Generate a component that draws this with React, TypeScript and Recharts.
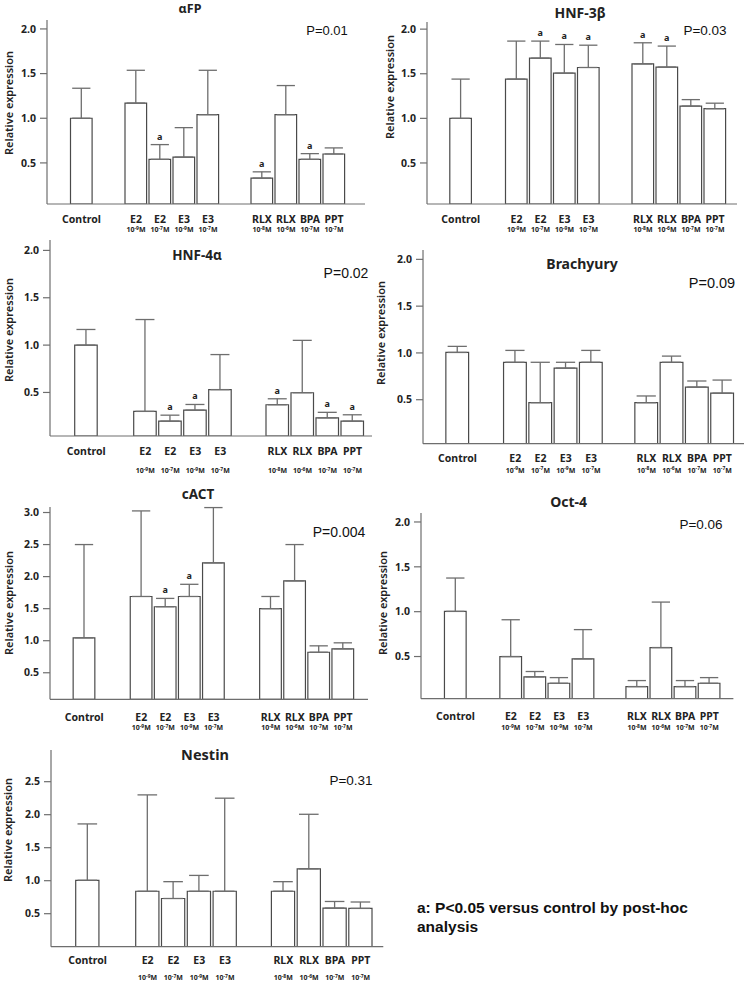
import React from 'react';
import { BarChart, Bar, XAxis, YAxis, ErrorBar, LabelList } from 'recharts';

const categories = ['Control', 'E2', 'E2', 'E3', 'E3', 'RLX', 'RLX', 'BPA', 'PPT'];
const concentrations = ['', '-9', '-7', '-9', '-7', '-8', '-6', '-7', '-7'];

// mean relative expression, upper error (SD) and post-hoc marks
const afpMean = [1.0, 1.17, 0.54, 0.565, 1.04, 0.33, 1.04, 0.54, 0.6];
const afpSd = [0.336, 0.367, 0.165, 0.33, 0.497, 0.07, 0.326, 0.064, 0.068];
const afpSig = [0, 0, 1, 0, 0, 1, 0, 1, 0];

const hnf3bMean = [1.0, 1.44, 1.675, 1.507, 1.57, 1.61, 1.575, 1.138, 1.108];
const hnf3bSd = [0.44, 0.426, 0.191, 0.321, 0.25, 0.237, 0.235, 0.072, 0.062];
const hnf3bSig = [0, 0, 1, 1, 1, 1, 1, 0, 0];

const hnf4aMean = [1.0, 0.3, 0.197, 0.313, 0.53, 0.37, 0.497, 0.232, 0.197];
const hnf4aSd = [0.165, 0.97, 0.063, 0.06, 0.37, 0.063, 0.553, 0.058, 0.067];
const hnf4aSig = [0, 0, 1, 1, 0, 1, 0, 1, 1];

const brachyuryMean = [1.005, 0.9, 0.468, 0.838, 0.9, 0.468, 0.9, 0.635, 0.57];
const brachyurySd = [0.065, 0.127, 0.432, 0.062, 0.127, 0.072, 0.066, 0.065, 0.14];
const brachyurySig = [0, 0, 0, 0, 0, 0, 0, 0, 0];

const cactMean = [1.045, 1.69, 1.53, 1.69, 2.214, 1.5, 1.933, 0.82, 0.873];
const cactSd = [1.455, 1.335, 0.13, 0.19, 0.863, 0.19, 0.567, 0.1, 0.094];
const cactSig = [0, 0, 1, 1, 0, 0, 0, 0, 0];

const oct4Mean = [1.003, 0.5, 0.273, 0.202, 0.474, 0.165, 0.6, 0.165, 0.202];
const oct4Sd = [0.372, 0.41, 0.06, 0.063, 0.326, 0.067, 0.507, 0.067, 0.063];
const oct4Sig = [0, 0, 0, 0, 0, 0, 0, 0, 0];

const nestinMean = [1.006, 0.84, 0.73, 0.84, 0.84, 0.84, 1.18, 0.585, 0.58];
const nestinSd = [0.854, 1.46, 0.255, 0.24, 1.41, 0.145, 0.826, 0.1, 0.097];
const nestinSig = [0, 0, 0, 0, 0, 0, 0, 0, 0];

const ticks2 = [0.5, 1.0, 1.5, 2.0];
const ticks3 = [0.5, 1.0, 1.5, 2.0, 2.5, 3.0];
const ticks25 = [0.5, 1.0, 1.5, 2.0, 2.5];

const SANS = '"Noto Sans", "Open Sans", sans-serif';
const ARIAL = '"Liberation Sans", Arial, sans-serif';
const LINE = '#6e6e6e';
const TEXT = '#222';

// layout of each pasted panel (page pixels)
const panels = [
  { name: 'αFP', p: 'P=0.01', mean: afpMean, sd: afpSd, sig: afpSig, ticks: ticks2, lo: 0.04, hi: 2.1,
    x0: 47, x1: 365, y0: 20, y1: 204, c: 81.5, e2: 136, rlx: 262, bw: 24,
    title: [190, 8, 12.5], pv: [327, 30, 13], yl: [8, 103], nameDy: 15, concDy: 26 },
  { name: 'HNF-3β', p: 'P=0.03', mean: hnf3bMean, sd: hnf3bSd, sig: hnf3bSig, ticks: ticks2, lo: 0.04, hi: 2.08,
    x0: 427, x1: 737, y0: 22, y1: 204, c: 460.8, e2: 516.5, rlx: 643, bw: 24,
    title: [580, 12, 14], pv: [705, 30, 13.5], yl: [389, 87], nameDy: 15, concDy: 26 },
  { name: 'HNF-4α', p: 'P=0.02', mean: hnf4aMean, sd: hnf4aSd, sig: hnf4aSig, ticks: ticks2, lo: 0.04, hi: 2.11,
    x0: 50, x1: 372, y0: 240, y1: 436, c: 86.2, e2: 145.2, rlx: 277.5, bw: 25,
    title: [197, 255, 13.5], pv: [346, 273, 14], yl: [8, 330], nameDy: 15, concDy: 35 },
  { name: 'Brachyury', p: 'P=0.09', mean: brachyuryMean, sd: brachyurySd, sig: brachyurySig, ticks: ticks2, lo: 0.03, hi: 2.1,
    x0: 423, x1: 744, y0: 250, y1: 443.7, c: 457.5, e2: 515.2, rlx: 646.5, bw: 25.3,
    title: [582, 263, 14], pv: [712, 283, 14.5], yl: [380, 333], nameDy: 14.6, concDy: 26.5 },
  { name: 'cACT', p: 'P=0.004', mean: cactMean, sd: cactSd, sig: cactSig, ticks: ticks3, lo: 0.086, hi: 3.086,
    x0: 50, x1: 368, y0: 507, y1: 699.3, c: 84.2, e2: 141.3, rlx: 270.7, bw: 24.1,
    title: [198, 494, 13.5], pv: [339, 531.7, 14], yl: [8, 603], nameDy: 18.4, concDy: 28.7 },
  { name: 'Oct-4', p: 'P=0.06', mean: oct4Mean, sd: oct4Sd, sig: oct4Sig, ticks: ticks2, lo: 0.03, hi: 2.1,
    x0: 421.3, x1: 733.7, y0: 513, y1: 698.7, c: 455.8, e2: 511.2, rlx: 637.3, bw: 24.1,
    title: [568.7, 500.7, 14], pv: [701, 524, 13.5], yl: [382, 603], nameDy: 18, concDy: 29 },
  { name: 'Nestin', p: 'P=0.31', mean: nestinMean, sd: nestinSd, sig: nestinSig, ticks: ticks25, lo: 0, hi: 2.98,
    x0: 50.7, x1: 383, y0: 750, y1: 946.7, c: 87.3, e2: 147.3, rlx: 283, bw: 25.8,
    title: [205, 754, 14.5], pv: [351, 780, 13.5], yl: [7, 830], nameDy: 14, concDy: 31 },
];

const SigMark = (props: any) => {
  const { x, y, width, value } = props;
  if (!value) return null;
  return (
    <text x={x + width / 2} y={y - 5} textAnchor="middle" fontSize={9} fontWeight={700} fill={TEXT} fontFamily={SANS}>
      a
    </text>
  );
};

const CatTick = ({ x, y, index, L }: any) => {
  const conc = concentrations[index];
  return (
    <g>
      <text x={x} y={y + L.nameDy} dy="0.35em" textAnchor="middle" fontSize={10.5} fontWeight={700} fill={TEXT} fontFamily={SANS}>
        {categories[index]}
      </text>
      {conc && (
        <text x={x} y={y + L.concDy} dy="0.35em" textAnchor="middle" fontSize={7} fontWeight={700} fill={TEXT} fontFamily={SANS}>
          10<tspan fontSize={5} dy={-2.5}>{conc}</tspan>
          <tspan dy={2.5}>M</tspan>
        </text>
      )}
    </g>
  );
};

const Panel = ({ L }: any) => {
  // bar slots: control, gap, E2/E3 group, gap, RLX/BPA/PPT group
  const g1 = (L.e2 - L.c) / L.bw;
  const g2 = (L.rlx - L.c) / L.bw;
  const slot = (i: number) => (i === 0 ? 0 : i <= 4 ? g1 + i - 1 : g2 + i - 5);
  const positions = categories.map((_, i) => slot(i));

  const data = categories.map((name, i) => ({
    name,
    pos: positions[i],
    mean: L.mean[i],
    sd: L.sd[i],
    err: [0, L.sd[i]],
    mark: L.sig[i] ? 'a' : '',
  }));

  const left = L.x0 - 46;
  const top = L.y0 - 6;
  const width = L.x1 - left + 6;
  const height = L.y1 + 48 - top;

  return (
    <>
      <div style={{ position: 'absolute', left, top }}>
        <BarChart width={width} height={height} data={data} margin={{ top: 6, right: 6, bottom: 0, left: 0 }}>
          <XAxis
            type="number"
            dataKey="pos"
            domain={[(L.x0 - L.c) / L.bw, (L.x1 - L.c) / L.bw]}
            allowDataOverflow
            ticks={positions}
            interval={0}
            height={48}
            tickLine={false}
            tickSize={0}
            tickMargin={0}
            axisLine={{ stroke: LINE, strokeWidth: 1.2 }}
            tick={(props: any) => <CatTick {...props} L={L} />}
          />
          <YAxis
            type="number"
            domain={[L.lo, L.hi]}
            allowDataOverflow
            ticks={L.ticks}
            width={46}
            tickSize={7}
            tickMargin={4}
            tickLine={{ stroke: LINE, strokeWidth: 1.2 }}
            axisLine={{ stroke: LINE, strokeWidth: 1.2 }}
            tick={{ fontSize: 10.5, fontWeight: 700, fill: TEXT, fontFamily: SANS }}
            tickFormatter={(v: number) => v.toFixed(1)}
          />
          <Bar dataKey="mean" stackId="s" barSize={L.bw} fill="#fff" stroke="#4a4a4a" strokeWidth={1.2} isAnimationActive={false}>
            <ErrorBar dataKey="err" direction="y" width={L.bw * 0.38} stroke={LINE} strokeWidth={1.3} />
          </Bar>
          <Bar dataKey="sd" stackId="s" barSize={L.bw} fill="none" isAnimationActive={false}>
            <LabelList dataKey="mark" content={SigMark} />
          </Bar>
        </BarChart>
      </div>
      <div style={{ position: 'absolute', left: L.title[0], top: L.title[1], transform: 'translate(-50%, -50%)',
        fontFamily: SANS, fontWeight: 700, fontSize: L.title[2], color: TEXT, whiteSpace: 'nowrap' }}>
        {L.name}
      </div>
      <div style={{ position: 'absolute', left: L.pv[0], top: L.pv[1], transform: 'translate(-50%, -50%)',
        fontFamily: ARIAL, fontSize: L.pv[2], color: '#111', whiteSpace: 'nowrap' }}>
        {L.p}
      </div>
      <div style={{ position: 'absolute', left: L.yl[0], top: L.yl[1], transform: 'translate(-50%, -50%) rotate(-90deg)',
        fontFamily: SANS, fontWeight: 600, fontSize: 11, color: TEXT, whiteSpace: 'nowrap' }}>
        Relative expression
      </div>
    </>
  );
};

export default function App() {
  return (
    <div style={{ position: 'absolute', left: 0, top: 0, width: 745, height: 983, background: '#fff', overflow: 'hidden' }}>
      {panels.map((L) => (
        <Panel key={L.name} L={L} />
      ))}
      <div style={{ position: 'absolute', left: 417, top: 898, fontFamily: ARIAL, fontWeight: 700, fontSize: 15.5,
        lineHeight: '19px', color: '#111' }}>
        a: P&lt;0.05 versus control by post-hoc
        <br />
        analysis
      </div>
    </div>
  );
}
